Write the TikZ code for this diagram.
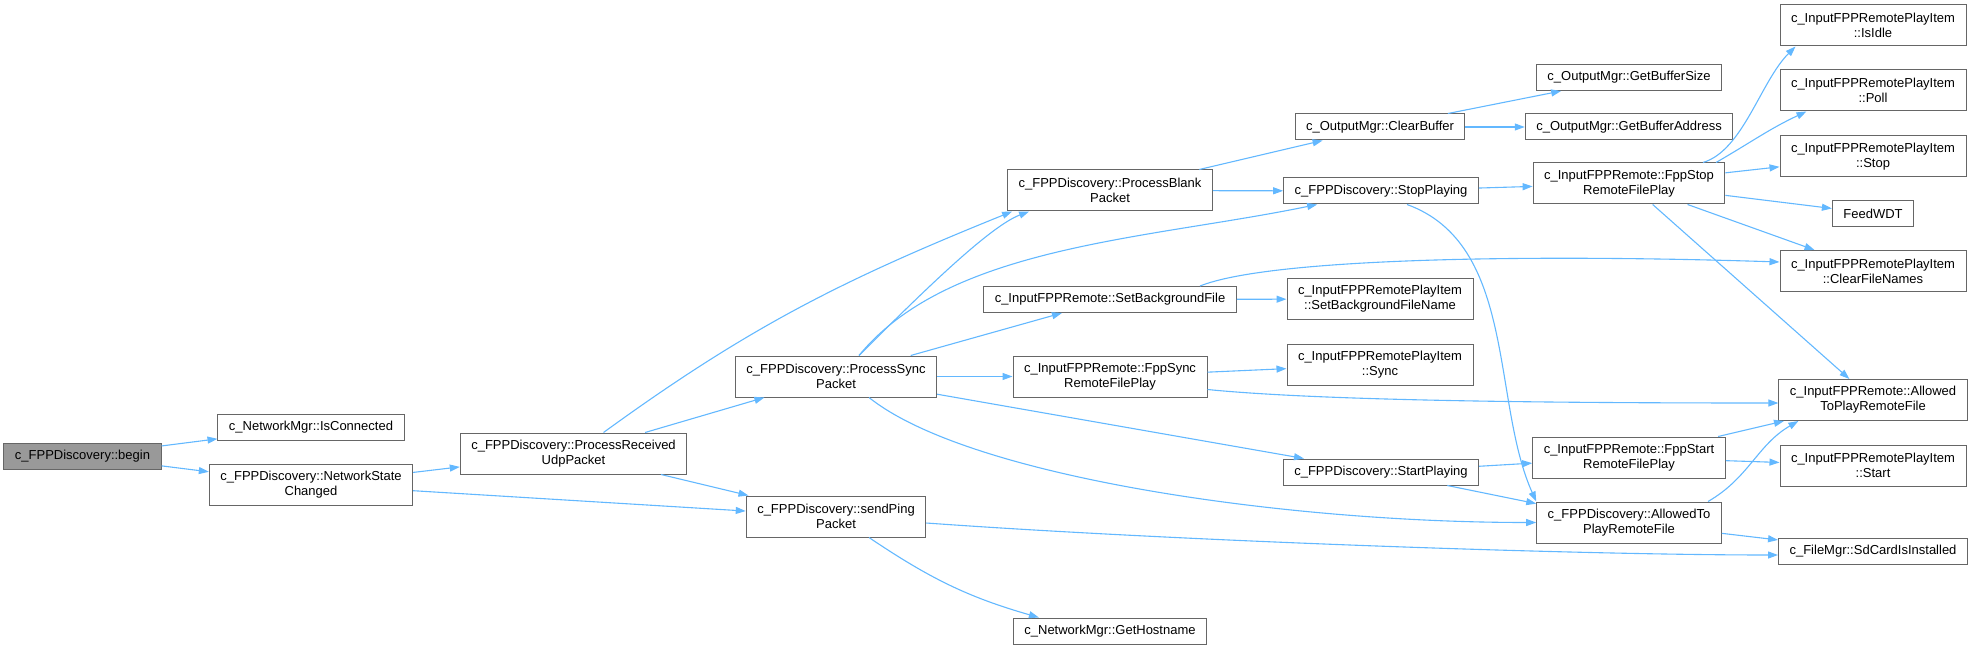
\documentclass[tikz,border=0pt]{standalone}
\usepackage{fontspec}
\setsansfont{Liberation Sans}
\usepackage{tikz}
\usetikzlibrary{arrows.meta}
\definecolor{edgeblue}{HTML}{63B8FF}
\definecolor{boxgray}{HTML}{666666}
\definecolor{rootgray}{HTML}{999999}

\begin{document}
\begin{tikzpicture}[x=1pt, y=1pt, >={Triangle[length=10pt,width=7pt]},
    fn/.style={draw=boxgray, line width=1pt, fill=white, align=center,
        font=\sffamily\fontsize{13}{15}\selectfont,
        inner xsep=11pt, inner ysep=0pt, minimum height=26pt},
    fntwo/.style={fn, minimum height=41pt},
    call/.style={->, draw=edgeblue, line width=1.1pt}]
    \useasboundingbox (0,0) rectangle (1972,649);

    % rank 0 and 1
    \node[fn, fill=rootgray] (begin) at (82.5,193) {c\_FPPDiscovery::begin};
    \node[fn] (isconn) at (311,222) {c\_NetworkMgr::IsConnected};
    \node[fntwo] (netstate) at (311,164.5) {c\_FPPDiscovery::NetworkState\\Changed};

    % rank 2 and 3
    \node[fntwo] (procudp) at (573.5,195.5) {c\_FPPDiscovery::ProcessReceived\\UdpPacket};
    \node[fntwo] (procsync) at (836,272.5) {c\_FPPDiscovery::ProcessSync\\Packet};
    \node[fntwo] (sendping) at (836,132.5) {c\_FPPDiscovery::sendPing\\Packet};

    % rank 4
    \node[fntwo] (procblank) at (1110,458.5) {c\_FPPDiscovery::ProcessBlank\\Packet};
    \node[fn] (setbg) at (1110,349.5) {c\_InputFPPRemote::SetBackgroundFile};
    \node[fntwo] (fppsync) at (1110,272.5) {c\_InputFPPRemote::FppSync\\RemoteFilePlay};
    \node[fn] (hostname) at (1110,18) {c\_NetworkMgr::GetHostname};

    % rank 5
    \node[fn] (clearbuf) at (1380,522) {c\_OutputMgr::ClearBuffer};
    \node[fn] (stopplay) at (1381,458) {c\_FPPDiscovery::StopPlaying};
    \node[fntwo] (setbgname) at (1380,350) {c\_InputFPPRemotePlayItem\\::SetBackgroundFileName};
    \node[fntwo] (itemsync) at (1380,284.5) {c\_InputFPPRemotePlayItem\\::Sync};
    \node[fn] (startplay) at (1381,177) {c\_FPPDiscovery::StartPlaying};

    % rank 6
    \node[fn] (bufsize) at (1629,571.5) {c\_OutputMgr::GetBufferSize};
    \node[fn] (bufaddr) at (1629,522) {c\_OutputMgr::GetBufferAddress};
    \node[fntwo] (fppstop) at (1629,465.5) {c\_InputFPPRemote::FppStop\\RemoteFilePlay};
    \node[fntwo] (fppstart) at (1629,191.5) {c\_InputFPPRemote::FppStart\\RemoteFilePlay};
    \node[fntwo] (allowedfpp) at (1629,126.5) {c\_FPPDiscovery::AllowedTo\\PlayRemoteFile};

    % rank 7
    \node[fntwo] (isidle) at (1873,623.5) {c\_InputFPPRemotePlayItem\\::IsIdle};
    \node[fntwo] (poll) at (1873,558.5) {c\_InputFPPRemotePlayItem\\::Poll};
    \node[fntwo] (itemstop) at (1873,492.5) {c\_InputFPPRemotePlayItem\\::Stop};
    \node[fn] (feedwdt) at (1873,435.5) {FeedWDT};
    \node[fntwo] (clearnames) at (1873,378) {c\_InputFPPRemotePlayItem\\::ClearFileNames};
    \node[fntwo] (allowedin) at (1873,249) {c\_InputFPPRemote::Allowed\\ToPlayRemoteFile};
    \node[fntwo] (itemstart) at (1873,183.5) {c\_InputFPPRemotePlayItem\\::Start};
    \node[fn] (sdcard) at (1873,98) {c\_FileMgr::SdCardIsInstalled};

    % calls
    \draw[call] (begin) -- (isconn);
    \draw[call] (begin) -- (netstate);
    \draw[call] (netstate) -- (procudp);
    \draw[call] (netstate) -- (sendping);
    \draw[call] ([xshift=30pt]procudp.north) to[out=36, in=202] ([xshift=5pt]procblank.south west);
    \draw[call] (procudp) -- (procsync);
    \draw[call] (procudp) -- (sendping);
    \draw[call] ([xshift=23pt]procsync.north) .. controls +(60,60) and +(-40,-15) .. ([xshift=22pt]procblank.south west);
    \draw[call] ([xshift=23pt]procsync.north) .. controls +(90,110) and +(-170,-35) .. ([xshift=34pt]stopplay.south west);
    \draw[call] (procsync) -- (setbg);
    \draw[call] (procsync) -- (fppsync);
    \draw[call] (procsync) -- (startplay);
    \draw[call] ([xshift=33pt]procsync.south) .. controls +(100,-80) and +(-250,0) .. (allowedfpp.west);
    \draw[call] (procblank) -- (clearbuf);
    \draw[call] (procblank) -- (stopplay);
    \draw[call] (clearbuf) -- (bufsize);
    \draw[call] (clearbuf) -- (bufaddr);
    \draw[call] (stopplay) -- (fppstop);
    \draw[call] ([xshift=26pt]stopplay.south) .. controls +(110,-40) and +(-45,100) .. (allowedfpp.north west);
    \draw[call] ([xshift=74pt]fppstop.north) .. controls +(40,12) and +(-35,-35) .. ([xshift=16pt]isidle.south west);
    \draw[call] ([xshift=87pt]fppstop.north) to[out=30, in=205] ([xshift=27pt]poll.south west);
    \draw[call] (fppstop) -- (itemstop);
    \draw[call] (fppstop) -- (feedwdt);
    \draw[call] (fppstop) -- (clearnames);
    \draw[call] (fppstop) -- (allowedin);
    \draw[call] ([xshift=90pt]setbg.north) .. controls +(70,28) and +(-250,8) .. ([yshift=9pt]clearnames.west);
    \draw[call] (setbg) -- (setbgname);
    \draw[call] (fppsync) -- (itemsync);
    \draw[call] ([yshift=-13pt]fppsync.east) .. controls +(120,-12) and +(-200,0) .. ([yshift=-3pt]allowedin.west);
    \draw[call] (startplay) -- (fppstart);
    \draw[call] (startplay) -- (allowedfpp);
    \draw[call] (fppstart) -- (allowedin);
    \draw[call] (fppstart) -- (itemstart);
    \draw[call] ([xshift=79pt]allowedfpp.north) to[out=30, in=210] ([xshift=20pt]allowedin.south west);
    \draw[call] (allowedfpp) -- (sdcard);
    \draw[call] ([yshift=-6.5pt]sendping.east) .. controls +(250,-18) and +(-200,0) .. ([yshift=-4pt]sdcard.west);
    \draw[call] ([xshift=33pt]sendping.south) to[out=-34, in=164] ([xshift=26pt]hostname.north west);
\end{tikzpicture}
\end{document}
